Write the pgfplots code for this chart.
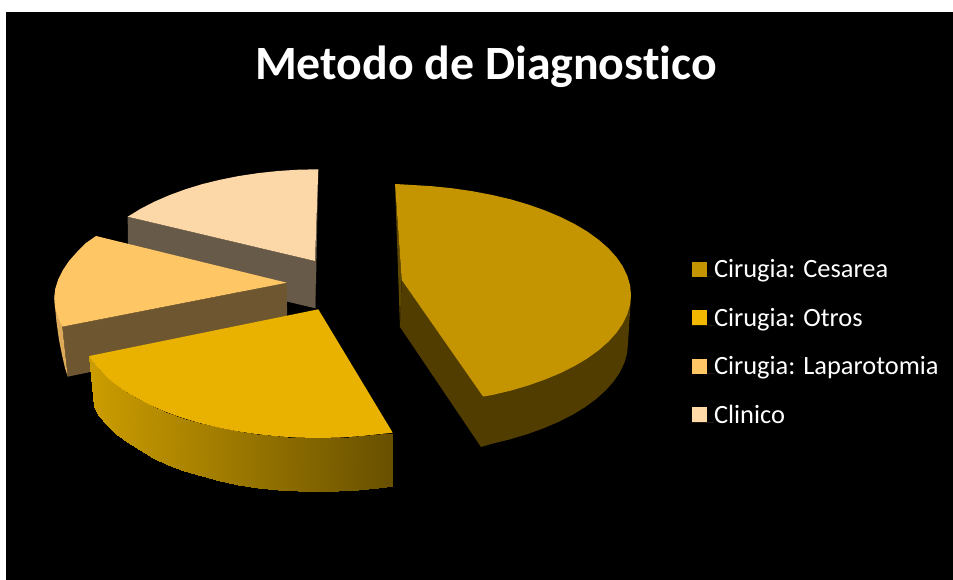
\documentclass[border=0pt]{standalone}
\usepackage{fontspec}
\setmainfont[Ligatures=NoCommon]{Carlito}
\usepackage{pgfplots}
\pgfplotsset{compat=1.18}
\definecolor{cesTop}{HTML}{C49500}
\definecolor{cesSide}{HTML}{523D00}
\definecolor{cesThin}{HTML}{5E4700}
\definecolor{otrTop}{HTML}{EAB200}
\definecolor{lapTop}{HTML}{FFC666}
\definecolor{lapSide}{HTML}{6E5730}
\definecolor{lapEdge}{HTML}{DDAA5A}
\definecolor{cliTop}{HTML}{FCD7A7}
\definecolor{cliSide}{HTML}{685A48}
\definecolor{legOtr}{HTML}{F2B800}
\definecolor{legCli}{HTML}{FFD9A8}
\begin{document}
\begin{tikzpicture}
\begin{axis}[
  scale only axis, width=953bp, height=580bp,
  xmin=0, xmax=953, ymin=0, ymax=580, y dir=reverse,
  hide axis,
  colormap={sidegold}{rgb255=(204,157,0) rgb255=(104,80,0)},
  legend style={at={(axis cs:692,261)}, anchor=north west, draw=none, fill=none,
    text=white, font=\fontsize{26.5}{26.5}\selectfont, row sep=26.4bp,
    inner sep=0pt, outer sep=0pt,
    nodes={inner sep=0pt, outer sep=0pt, text depth=5bp, text height=17bp, anchor=base west}},
  legend cell align=left,
  legend image code/.code={\fill[#1] (0bp,1bp) rectangle (15bp,16bp); \path (0bp,1bp) -- (22bp,1bp);},
]
% canvas and black plot area
\addplot[fill=white, draw=none, forget plot] coordinates {(0,0) (953,0) (953,580) (0,580)} -- cycle;
\addplot[fill=black, draw=none, forget plot] coordinates {(6,12) (953,12) (953,580) (6,580)} -- cycle;

% Clinico
\addplot[fill=cliSide, draw=none, forget plot] coordinates {(127.7,216.7) (315,261) (315.5,308.3) (128,264)} -- cycle;
\addplot[fill=cliSide, draw=none, forget plot] coordinates {(318.3,169.3) (315,261) (315.5,308.3)} -- cycle;
\addplot[fill=cliTop, draw=none, forget plot] coordinates {(318.3,169.3) (298.1,169.7) (278,171) (258.3,173.1) (239,176) (220.3,179.7) (202.3,184.1) (185.3,189.3) (169.3,195.2) (154.3,201.7) (140.6,208.8) (127.7,216.7) (315,261)} -- cycle;

% Laparotomia
\addplot[fill=lapSide, draw=none, forget plot] coordinates {(62.3,326.7) (286.7,282.7) (287.3,331) (67.7,376.7)} -- cycle;
\addplot[fill=lapEdge, draw=none, forget plot] coordinates {(54.3,296) (55,307) (56.5,322) (59,340) (62,355) (65,368) (67.7,376.7) (62.3,326.7)} -- cycle;
\addplot[fill=lapTop, draw=none, forget plot] coordinates {(96,236) (86,243) (77,252) (69,261) (63,270) (58,280) (55.2,289) (54.3,297) (55,307) (58,317) (62.3,326.7) (286.7,282.7)} -- cycle;

% Otros: side face with shading, then top
\addplot[surf, shader=interp, mesh/rows=2, mesh/cols=20, point meta=x, forget plot] coordinates {
(392.7,432.7) (379.6,434.1) (359.3,436.3) (338.8,437.6) (318,438) (297.2,437.6) (276.7,436.3) (256.4,434.1) (236.6,431.2) (217.4,427.4) (199,422.9) (181.5,417.6) (165,411.6) (149.7,404.9) (135.7,397.6) (123,389.8) (111.9,381.5) (102.3,372.8) (94.4,363.6) (89.3,356)

(392.7,485.7) (378.3,487.6) (358.4,489.8) (338.3,491.1) (318,491.5) (297.7,491.1) (277.6,489.8) (257.7,487.6) (238.3,484.6) (219.5,480.7) (201.5,476.1) (184.4,470.7) (168.2,464.6) (153.2,457.8) (139.5,450.4) (127.1,442.5) (116.2,434) (106.8,425.1) (99,415.8) (94,407)
};
\addplot[fill=otrTop, draw=none, forget plot] coordinates {(318.3,309.3) (392.7,432.7) (379.6,434.1) (359.3,436.3) (338.8,437.6) (318,438) (297.2,437.6) (276.7,436.3) (256.4,434.1) (236.6,431.2) (217.4,427.4) (199,422.9) (181.5,417.6) (165,411.6) (149.7,404.9) (135.7,397.6) (123,389.8) (111.9,381.5) (102.3,372.8) (94.4,363.6) (89.3,356)} -- cycle;

% Cesarea
\addplot[fill=cesThin, draw=none, forget plot] coordinates {(395,184) (401.7,280) (400,327)} -- cycle;
\addplot[fill=cesSide, draw=none, forget plot] coordinates {(401.7,280) (400,327) (481,447) (490.6,444.1) (509,439.6) (526.5,434.4) (543,428.5) (558.3,422) (572.3,414.9) (585,407.2) (596.1,399) (605.7,390.4) (613.6,381.5) (619.9,372.2) (624.4,362.8) (627.1,353.2) (628,343.5) (631,296) (483,396)} -- cycle;
\addplot[fill=cesTop, draw=none, forget plot] coordinates {(395,184) (411,184.9) (431.8,186.2) (452.4,188.3) (472.4,191.2) (491.8,194.9) (510.5,199.3) (528.2,204.5) (544.9,210.4) (560.4,216.9) (574.6,224) (587.4,231.6) (598.7,239.8) (608.4,248.3) (616.5,257.2) (622.8,266.4) (627.3,275.8) (630.1,285.4) (631,295) (630.1,304.6) (627.3,314.2) (622.8,323.6) (616.5,332.8) (608.4,341.7) (598.7,350.2) (587.4,358.4) (574.6,366) (560.4,373.1) (544.9,379.6) (528.2,385.5) (510.5,390.7) (491.8,395.1) (483,396.5) (401.7,280)} -- cycle;

% Legend
\addlegendimage{fill=cesTop, draw=none}
\addlegendentry{Cirugia: Cesarea}
\addlegendimage{fill=legOtr, draw=none}
\addlegendentry{Cirugia: Otros}
\addlegendimage{fill=lapTop, draw=none}
\addlegendentry{Cirugia: Laparotomia}
\addlegendimage{fill=legCli, draw=none}
\addlegendentry{Clinico}

% Title
\node[text=white, anchor=base, font=\fontsize{48}{48}\bfseries\selectfont] at (axis cs:486,80) {Metodo de Diagnostico};
\end{axis}
\end{tikzpicture}
\end{document}
